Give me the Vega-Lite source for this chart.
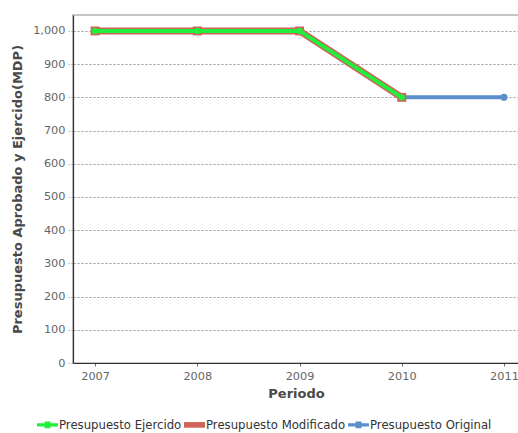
{
  "$schema": "https://vega.github.io/schema/vega-lite/v6.json",
  "autosize": {"type": "none"},
  "width": 446,
  "height": 348,
  "padding": {"left": 73, "top": 15, "right": 0, "bottom": 70},
  "background": "white",
  "config": {
    "font": "DejaVu Sans",
    "view": {"stroke": "#b4b4b4", "strokeWidth": 1.5},
    "axis": {
      "labelFont": "DejaVu Sans",
      "labelFontSize": 11.3,
      "labelColor": "#666666",
      "titleFont": "DejaVu Sans",
      "titleFontSize": 13,
      "titleFontWeight": "bold",
      "titleColor": "#4a4a4a",
      "domainColor": "#333333",
      "domainWidth": 1.2
    }
  },
  "data": {
    "values": [
      {"serie": "Presupuesto Original", "periodo": 2007, "valor": 1000},
      {"serie": "Presupuesto Original", "periodo": 2008, "valor": 1000},
      {"serie": "Presupuesto Original", "periodo": 2009, "valor": 1000},
      {"serie": "Presupuesto Original", "periodo": 2010, "valor": 800},
      {"serie": "Presupuesto Original", "periodo": 2011, "valor": 800},
      {"serie": "Presupuesto Modificado", "periodo": 2007, "valor": 1000},
      {"serie": "Presupuesto Modificado", "periodo": 2008, "valor": 1000},
      {"serie": "Presupuesto Modificado", "periodo": 2009, "valor": 1000},
      {"serie": "Presupuesto Modificado", "periodo": 2010, "valor": 800},
      {"serie": "Presupuesto Ejercido", "periodo": 2007, "valor": 1000},
      {"serie": "Presupuesto Ejercido", "periodo": 2008, "valor": 1000},
      {"serie": "Presupuesto Ejercido", "periodo": 2009, "valor": 1000},
      {"serie": "Presupuesto Ejercido", "periodo": 2010, "valor": 800}
    ]
  },
  "encoding": {
    "x": {
      "field": "periodo",
      "type": "quantitative",
      "scale": {"domain": [2006.784, 2011.147], "nice": false, "zero": false},
      "axis": {
        "title": "Periodo",
        "values": [2007, 2008, 2009, 2010, 2011],
        "format": "d",
        "grid": false,
        "tickSize": 3,
        "tickColor": "#666666",
        "labelPadding": 4,
        "titlePadding": 6
      }
    },
    "y": {
      "field": "valor",
      "type": "quantitative",
      "scale": {"domain": [0, 1048], "nice": false},
      "axis": {
        "title": "Presupuesto Aprobado y Ejercido(MDP)",
        "values": [0, 100, 200, 300, 400, 500, 600, 700, 800, 900, 1000],
        "format": ",.0f",
        "grid": true,
        "gridColor": "#999999",
        "gridDash": [2, 2],
        "gridWidth": 1,
        "tickSize": 5,
        "tickColor": "#999999",
        "tickDash": [2, 2],
        "labelPadding": 3,
        "titlePadding": 8
      }
    },
    "color": {
      "field": "serie",
      "type": "nominal",
      "scale": {
        "domain": ["Presupuesto Ejercido", "Presupuesto Modificado", "Presupuesto Original"],
        "range": ["#1ef03c", "#d0635a", "#5b8fcb"]
      },
      "legend": {
        "title": null,
        "orient": "none",
        "direction": "horizontal",
        "legendX": -36,
        "legendY": 399,
        "symbolType": "square",
        "symbolSize": 440,
        "symbolStrokeWidth": 0,
        "labelFontSize": 11.7,
        "labelColor": "#333333",
        "labelFont": "DejaVu Sans",
        "labelOffset": 1,
        "columnPadding": 2,
        "encode": {
          "symbols": {
            "update": {
              "shape": {"signal": "datum.value === 'Presupuesto Modificado' ? 'M-1,-0.27L1,-0.27L1,0.27L-1,0.27Z' : 'M-1,-0.15L1,-0.15L1,0.15L-1,0.15ZM-0.28,-0.32L0.28,-0.32L0.28,0.32L-0.28,0.32Z'"},
              "fill": {"signal": "scale('color', datum.value)"},
              "fillOpacity": {"value": 1},
              "strokeWidth": {"value": 0}
            }
          }
        }
      }
    }
  },
  "layer": [
    {
      "transform": [{"filter": "datum.serie === 'Presupuesto Original'"}],
      "mark": {"type": "line", "strokeWidth": 4},
      "encoding": {}
    },
    {
      "transform": [{"filter": "datum.serie === 'Presupuesto Original'"}],
      "mark": {"type": "point", "shape": "circle", "filled": true, "size": 50, "opacity": 1},
      "encoding": {}
    },
    {
      "transform": [{"filter": "datum.serie === 'Presupuesto Modificado'"}],
      "mark": {"type": "line", "strokeWidth": 7},
      "encoding": {}
    },
    {
      "transform": [{"filter": "datum.serie === 'Presupuesto Modificado'"}],
      "mark": {"type": "point", "shape": "square", "filled": true, "size": 80, "opacity": 1},
      "encoding": {}
    },
    {
      "transform": [{"filter": "datum.serie === 'Presupuesto Ejercido'"}],
      "mark": {"type": "line", "strokeWidth": 4},
      "encoding": {}
    },
    {
      "transform": [{"filter": "datum.serie === 'Presupuesto Ejercido'"}],
      "mark": {"type": "point", "shape": "circle", "filled": true, "size": 40, "opacity": 1},
      "encoding": {}
    }
  ]
}
